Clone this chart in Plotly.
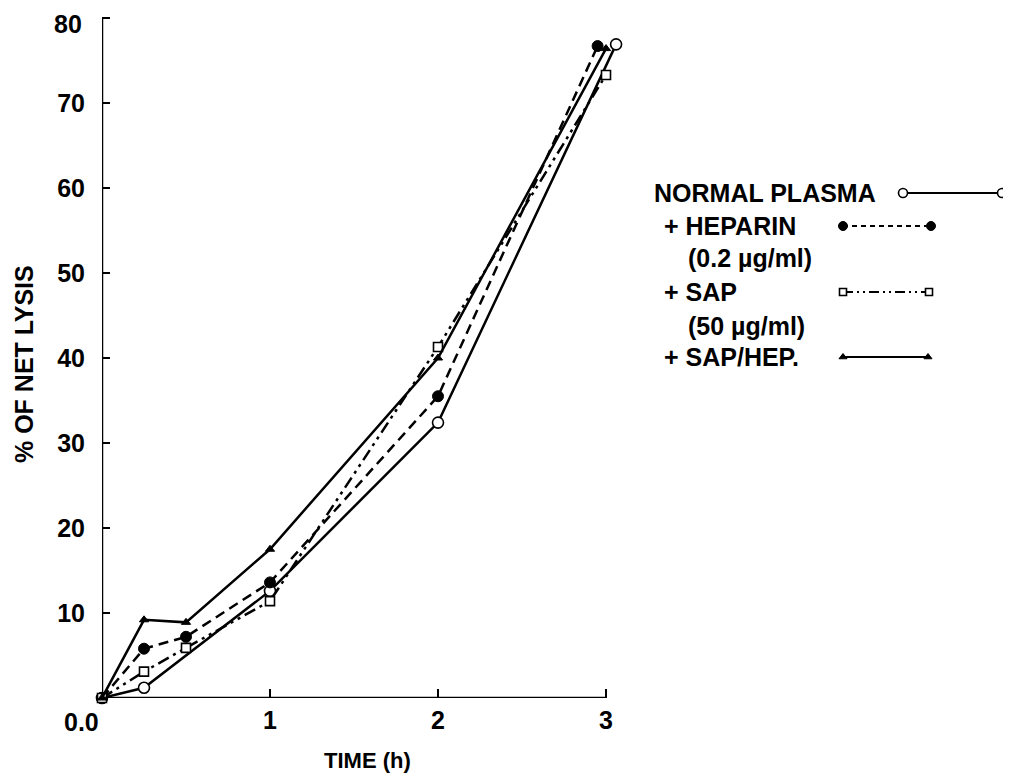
import plotly.graph_objects as go

# ---- data ----
normal_t = [0, 0.25, 1, 2, 3.06]
normal_v = [0, 1.2, 12.6, 32.4, 76.9]

heparin_t = [0, 0.25, 0.5, 1, 2, 2.95]
heparin_v = [0, 5.8, 7.2, 13.6, 35.5, 76.7]

sap_t = [0, 0.25, 0.5, 1, 2, 3.0]
sap_v = [0, 3.1, 5.9, 11.4, 41.3, 73.3]

saphep_t = [0, 0.25, 0.5, 1, 2, 3.0]
saphep_v = [0, 9.2, 8.9, 17.5, 40.0, 76.4]

y_tickvals = [10, 20, 30, 40, 50, 60, 70, 80]
y_ticktext = ["10", "20", "30", "40", "50", "60", "70", "80"]
x_tickvals = [1, 2, 3]
x_ticktext = ["1", "2", "3"]

W, H = 1011, 780
OFF = 8  # page body margin: screen px = figure px + OFF
FONT = "Liberation Sans"
BLACK = "#000000"


def fx(px):
    return (px - OFF) / W


def fy(py):
    return 1 - (py - OFF) / H


fig = go.Figure()

series = [
    (normal_t, normal_v, "solid", dict(symbol="circle", size=11, color="white", line=dict(color=BLACK, width=1.6))),
    (heparin_t, heparin_v, "10px,6px", dict(symbol="circle", size=11, color=BLACK, line=dict(color=BLACK, width=1))),
    (sap_t, sap_v, "12px,5px,3px,5px,3px,5px", dict(symbol="square", size=9, color="white", line=dict(color=BLACK, width=1.6))),
    (saphep_t, saphep_v, "solid", dict(symbol="triangle-up", size=8, color=BLACK, line=dict(color=BLACK, width=1))),
]
for t, v, dash, mk in series:
    fig.add_trace(go.Scatter(x=t, y=v, mode="lines+markers",
                             line=dict(color=BLACK, width=2.5, dash=dash),
                             marker=mk, cliponaxis=False, showlegend=False,
                             xaxis="x", yaxis="y"))

# ---- custom legend (screen px positions, drawn on a hidden overlay axis) ----
legend_items = [
    ("NORMAL PLASMA", 653, 193, [903, 1002], "solid", series[0][3]),
    ("+ HEPARIN", 663, 226, [843, 931], "5px,4px", series[1][3]),
    ("(0.2 µg/ml)", 687, 258, None, None, None),
    ("+ SAP", 663, 292, [843, 929], "10px,4px,2px,4px,2px,4px", series[2][3]),
    ("(50 µg/ml)", 687, 326, None, None, None),
    ("+ SAP/HEP.", 663, 357, [843, 928], "solid", series[3][3]),
]
for text, tx, ty, lx, dash, mk in legend_items:
    fig.add_annotation(text=text, xref="paper", yref="paper", x=fx(tx), y=fy(ty),
                       xanchor="left", yanchor="middle", showarrow=False, borderpad=0,
                       font=dict(family=FONT, size=25, color=BLACK, weight="bold"))
    if lx is not None:
        mk2 = dict(mk)
        mk2["size"] = max(mk["size"] - 2, 7)
        fig.add_trace(go.Scatter(x=[p - OFF for p in lx], y=[ty - OFF, ty - OFF], mode="lines+markers",
                                 line=dict(color=BLACK, width=2, dash=dash),
                                 marker=mk2, cliponaxis=False, showlegend=False,
                                 xaxis="x2", yaxis="y2", hoverinfo="skip"))

# ---- plot geometry (screen px) ----
x0_px, x_per_h = 102, 168.0
y0_px, y_per_u = 698, 8.5
x_max, y_max = 3.12, 80.6
x_dom = [fx(x0_px), fx(x0_px + x_max * x_per_h)]
y_dom = [fy(y0_px), fy(y0_px - y_max * y_per_u)]

tickfont = dict(family=FONT, size=25, color=BLACK, weight="bold")

# the top label ("80") sits at the very top edge; draw it as an annotation kept inside the page
shown_ticktext = y_ticktext[:-1] + [""]

fig.update_layout(
    width=W, height=H,
    margin=dict(l=0, r=0, t=0, b=0, autoexpand=False),
    paper_bgcolor="white", plot_bgcolor="rgba(0,0,0,0)",
    xaxis=dict(domain=x_dom, range=[0, x_max], showgrid=False, zeroline=False,
               showline=False, tickvals=x_tickvals, ticktext=x_ticktext,
               ticks="inside", ticklen=9, tickwidth=2, tickcolor=BLACK,
               tickfont=tickfont, ticklabelstandoff=5, automargin=False,
               ticklabeloverflow="allow"),
    yaxis=dict(domain=y_dom, range=[0, y_max], showgrid=False, zeroline=False,
               showline=False, tickvals=y_tickvals, ticktext=shown_ticktext,
               ticks="inside", ticklen=8, tickwidth=2, tickcolor=BLACK,
               tickfont=tickfont, ticklabelstandoff=16, automargin=False,
               ticklabeloverflow="allow"),
    xaxis2=dict(domain=[0, 1], range=[0, W], visible=False, anchor="y2"),
    yaxis2=dict(domain=[0, 1], range=[H, 0], visible=False, anchor="x2"),
)

fig.add_annotation(text=y_ticktext[-1], xref="x", yref="paper", x=0, y=1,
                   xanchor="right", yanchor="top", xshift=-19, yshift=-1,
                   showarrow=False, borderpad=0, font=tickfont)

# axis lines (x ends at 3 h, y ends at 80)
fig.add_shape(type="line", xref="x", yref="y", x0=0, x1=3, y0=0, y1=0,
              line=dict(color=BLACK, width=2.5))
fig.add_shape(type="line", xref="x", yref="y", x0=0, x1=0, y0=0, y1=80,
              line=dict(color=BLACK, width=2.5))

# origin label and axis titles
fig.add_annotation(text="0.0", xref="x", yref="y", x=0, y=0, xanchor="right",
                   yanchor="top", yshift=-9, xshift=-2, showarrow=False, borderpad=0, font=tickfont)
fig.add_annotation(text="TIME (h)", xref="paper", yref="paper", x=fx(367), y=fy(760),
                   xanchor="center", yanchor="middle", showarrow=False,
                   font=dict(family=FONT, size=22, color=BLACK, weight="bold"))
fig.add_annotation(text="% OF NET LYSIS", xref="paper", yref="paper", x=fx(24), y=fy(364),
                   xanchor="center", yanchor="middle", textangle=-90, showarrow=False,
                   font=dict(family=FONT, size=25, color=BLACK, weight="bold"))

fig.write_html("out.html")
